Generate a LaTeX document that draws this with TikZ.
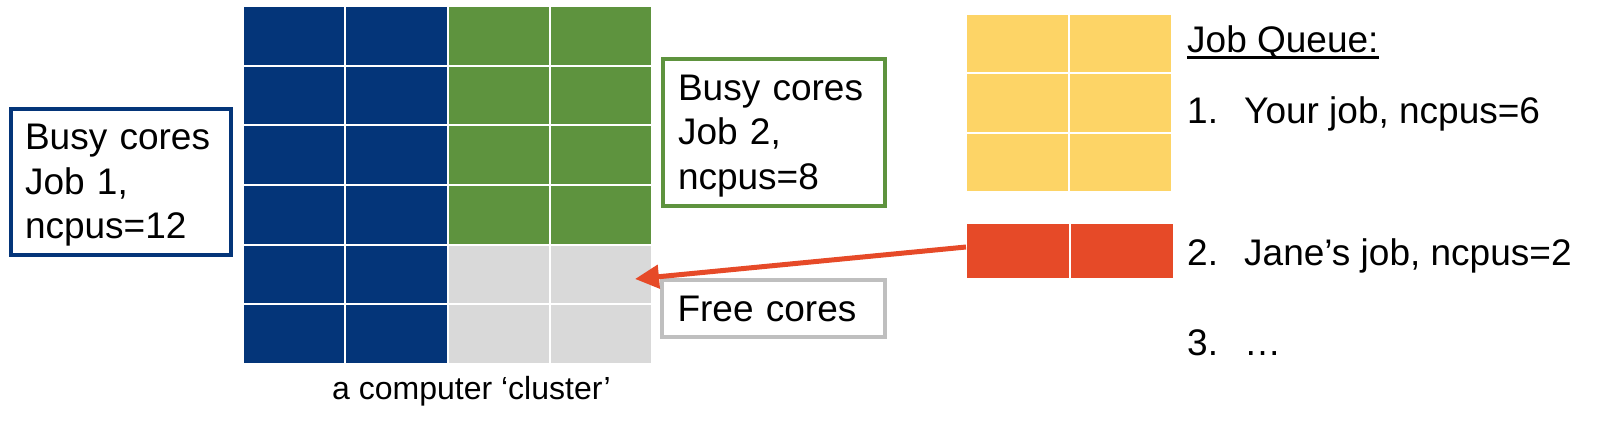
\documentclass[tikz,border=0pt]{standalone}
\usepackage{fontspec}
\setmainfont{Liberation Sans}
\definecolor{navy1}{RGB}{4, 53, 121}
\definecolor{green1}{RGB}{94, 147, 62}
\definecolor{gray1}{RGB}{217, 217, 217}
\definecolor{gray2}{RGB}{191, 191, 191}
\definecolor{yellow1}{RGB}{253, 212, 102}
\definecolor{red1}{RGB}{230, 74, 40}
\usepackage{tikz}
\usetikzlibrary{arrows.meta, positioning, calc}
\newcommand{\bigtext}{\fontsize{37}{44.5}\selectfont}
\newcommand{\topstrut}{\rule{0pt}{32pt}}

\begin{document}
\begin{tikzpicture}[x=1pt, y=-1pt,
  core/.style={fill=#1, draw=white, line width=2pt, inner sep=0pt, outer sep=0pt},
  box/.style={draw=#1, line width=4pt, fill=white, text width=192pt, align=left, inner sep=0pt, font=\bigtext},
  label/.style={inner sep=0pt, anchor=base west, font=\bigtext},
]
  \useasboundingbox (0, 0) rectangle (1608, 424);

  \foreach \r in {0,...,5} \foreach \c in {0,1}
    \node[core=navy1, minimum width=102.25pt, minimum height=59.67pt] (cl-\r-\c) at ({243+(\c+0.5)*102.25}, {6+(\r+0.5)*59.67}) {};
  \foreach \r in {0,...,3} \foreach \c in {2,3}
    \node[core=green1, minimum width=102.25pt, minimum height=59.67pt] (cl-\r-\c) at ({243+(\c+0.5)*102.25}, {6+(\r+0.5)*59.67}) {};
  \foreach \r in {4,5} \foreach \c in {2,3}
    \node[core=gray1, minimum width=102.25pt, minimum height=59.67pt] (cl-\r-\c) at ({243+(\c+0.5)*102.25}, {6+(\r+0.5)*59.67}) {};
  \node[label, font=\fontsize{32}{38}\selectfont] (cluster) at (332, 399) {a computer  ‘cluster’};

  \node[box=navy1, minimum width=220pt, minimum height=146pt] (job1) at (121, 182) {\topstrut Busy cores\\Job 1,\\ncpus=12};
  \node[box=green1, minimum width=222pt, minimum height=147pt] (job2) at (774, 132.5) {\topstrut Busy cores\\Job 2,\\ncpus=8};
  \node[box=gray2, minimum width=223pt, minimum height=57pt] (free) at (773.5, 308.5) {Free cores};

  \foreach \r in {0,1,2} \foreach \c in {0,1}
    \node[core=yellow1, minimum width=103pt, minimum height=59.33pt] (yj-\r-\c) at ({966+(\c+0.5)*103}, {14+(\r+0.5)*59.33}) {};
  \foreach \c in {0,1}
    \node[core=red1, minimum width=104pt, minimum height=56pt] (jj-\c) at ({966+(\c+0.5)*104}, 251) {};

  \node[label] (queue) at (1187, 52) {Job Queue:};
  \draw[line width=3pt] ([yshift=-5pt]queue.base west) -- ([yshift=-5pt]queue.base east);
  \node[label] (item1) at (1187, 123) {\makebox[57pt][l]{1.}Your job, ncpus=6};
  \node[label] (item2) at (1187, 265) {\makebox[57pt][l]{2.}Jane’s job, ncpus=2};
  \node[label] (item3) at (1187, 355) {\makebox[57pt][l]{3.}…};

  \coordinate (freetip) at (635, 279);
  \draw[red1, line width=5pt, -{Triangle[length=24pt, width=23pt]}] ([yshift=4pt]jj-0.west) -- (freetip);
\end{tikzpicture}
\end{document}
